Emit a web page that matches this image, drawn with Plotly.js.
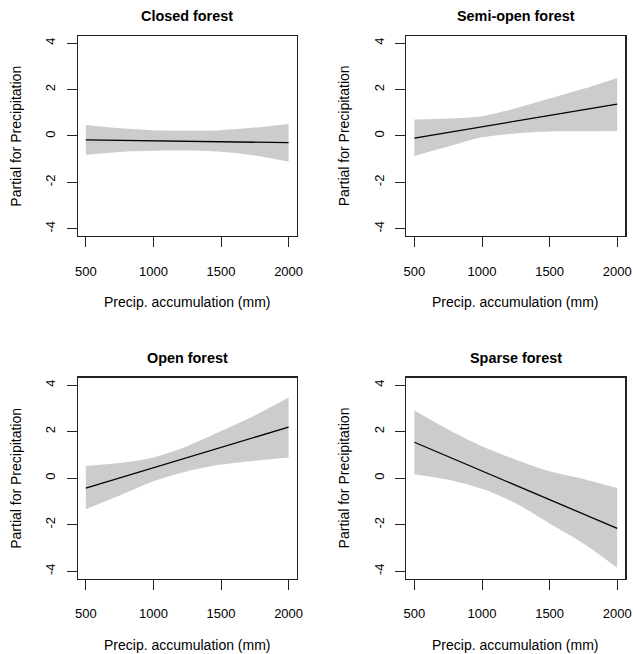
<!DOCTYPE html>
<html>
<head>
<meta charset="utf-8">
<script src="https://cdn.plot.ly/plotly-3.0.1.min.js"></script>
<style>html,body{margin:0;padding:0;background:#fff;}#chart{width:633px;height:654px;}</style>
</head>
<body>
<div id="chart"></div>
<script>
// ---- data ----
const panelTitles = ["Closed forest", "Semi-open forest", "Open forest", "Sparse forest"];
const xTitle = "Precip. accumulation (mm)";
const yTitle = "Partial for Precipitation";
const xTicks = [500, 1000, 1500, 2000];
const yTicks = [-4, -2, 0, 2, 4];

const fitX = [500, 2000];
const bandX = [500, 750, 1000, 1250, 1500, 1750, 2000];

const closedFit = [-0.17, -0.29];
const closedUpper = [0.47, 0.33, 0.25, 0.22, 0.25, 0.36, 0.52];
const closedLower = [-0.81, -0.69, -0.64, -0.63, -0.68, -0.84, -1.10];

const semiFit = [-0.09, 1.37];
const semiUpper = [0.71, 0.75, 0.85, 1.19, 1.61, 2.03, 2.50];
const semiLower = [-0.86, -0.46, -0.06, 0.11, 0.19, 0.20, 0.21];

const openFit = [-0.43, 2.19];
const openUpper = [0.53, 0.65, 0.89, 1.37, 2.02, 2.69, 3.46];
const openLower = [-1.34, -0.75, -0.14, 0.29, 0.58, 0.75, 0.89];

const sparseFit = [1.54, -2.16];
const sparseUpper = [2.91, 2.09, 1.37, 0.79, 0.29, -0.04, -0.43];
const sparseLower = [0.17, -0.07, -0.46, -1.08, -1.95, -2.81, -3.85];

// ---- build ----
const W = 633, H = 654;
const FONT = "Liberation Sans, Arial, Helvetica, sans-serif";
const px = v => v / W;
const py = v => 1 - v / H;

const boxes = [
  {l: 77.7, r: 296.7, t: 35.7, b: 236.2},
  {l: 406.3, r: 625.3, t: 35.7, b: 236.2},
  {l: 77.7, r: 296.7, t: 377.6, b: 578.6},
  {l: 406.3, r: 625.3, t: 377.6, b: 578.6}
];
const series = [
  [closedFit, closedUpper, closedLower],
  [semiFit, semiUpper, semiLower],
  [openFit, openUpper, openLower],
  [sparseFit, sparseUpper, sparseLower]
];

const traces = [];
const layout = {
  width: W, height: H,
  margin: {l: 0, r: 0, t: 0, b: 0},
  paper_bgcolor: "#ffffff",
  plot_bgcolor: "#ffffff",
  showlegend: false,
  font: {family: FONT, color: "#000000", size: 13},
  annotations: []
};

series.forEach((s, i) => {
  const n = i + 1;
  const xa = n === 1 ? "x" : "x" + n;
  const ya = n === 1 ? "y" : "y" + n;
  const [fit, upper, lower] = s;
  traces.push({x: bandX, y: lower, xaxis: xa, yaxis: ya, type: "scatter", mode: "lines",
    line: {width: 0, shape: "spline", smoothing: 0.8, color: "#cccccc"}, hoverinfo: "skip"});
  traces.push({x: bandX, y: upper, xaxis: xa, yaxis: ya, type: "scatter", mode: "lines",
    fill: "tonexty", fillcolor: "#cccccc",
    line: {width: 0, shape: "spline", smoothing: 0.8, color: "#cccccc"}, hoverinfo: "skip"});
  traces.push({x: fitX, y: fit, xaxis: xa, yaxis: ya, type: "scatter", mode: "lines",
    line: {width: 1.3, color: "#000000"}});

  const b = boxes[i];
  const axCommon = {
    showgrid: false, zeroline: false, showline: true, mirror: true,
    linecolor: "#222222", linewidth: 1.2,
    ticks: "outside", ticklen: 10, tickwidth: 1, tickcolor: "#222222",
    tickfont: {family: FONT, size: 13, color: "#000000"},
    tickmode: "array", fixedrange: true
  };
  layout["xaxis" + (n === 1 ? "" : n)] = Object.assign({}, axCommon, {
    domain: [px(b.l), px(b.r)], anchor: ya, range: [440, 2060],
    tickvals: xTicks, ticktext: xTicks.map(String), ticklabelstandoff: 13
  });
  layout["yaxis" + (n === 1 ? "" : n)] = Object.assign({}, axCommon, {
    domain: [py(b.b), py(b.t)], anchor: xa, range: [-4.32, 4.32],
    tickvals: yTicks, ticktext: yTicks.map(String), tickangle: -90, ticklabelstandoff: 6
  });

  const cx = (b.l + b.r) / 2;
  layout.annotations.push({text: "<b>" + panelTitles[i] + "</b>", xref: "paper", yref: "paper",
    x: px(cx), y: py(b.t - 20), xanchor: "center", yanchor: "middle", showarrow: false,
    font: {family: FONT, size: 14.4, color: "#000000"}});
  layout.annotations.push({text: xTitle, xref: "paper", yref: "paper",
    x: px(cx), y: py(b.b + 66), xanchor: "center", yanchor: "middle", showarrow: false,
    font: {family: FONT, size: 14, color: "#000000"}});
  layout.annotations.push({text: yTitle, xref: "paper", yref: "paper",
    x: px(b.l - 62), y: py((b.t + b.b) / 2), xanchor: "center", yanchor: "middle", showarrow: false,
    textangle: -90, font: {family: FONT, size: 14, color: "#000000"}});
});

Plotly.newPlot("chart", traces, layout, {displayModeBar: false, staticPlot: true});
</script>
</body>
</html>
